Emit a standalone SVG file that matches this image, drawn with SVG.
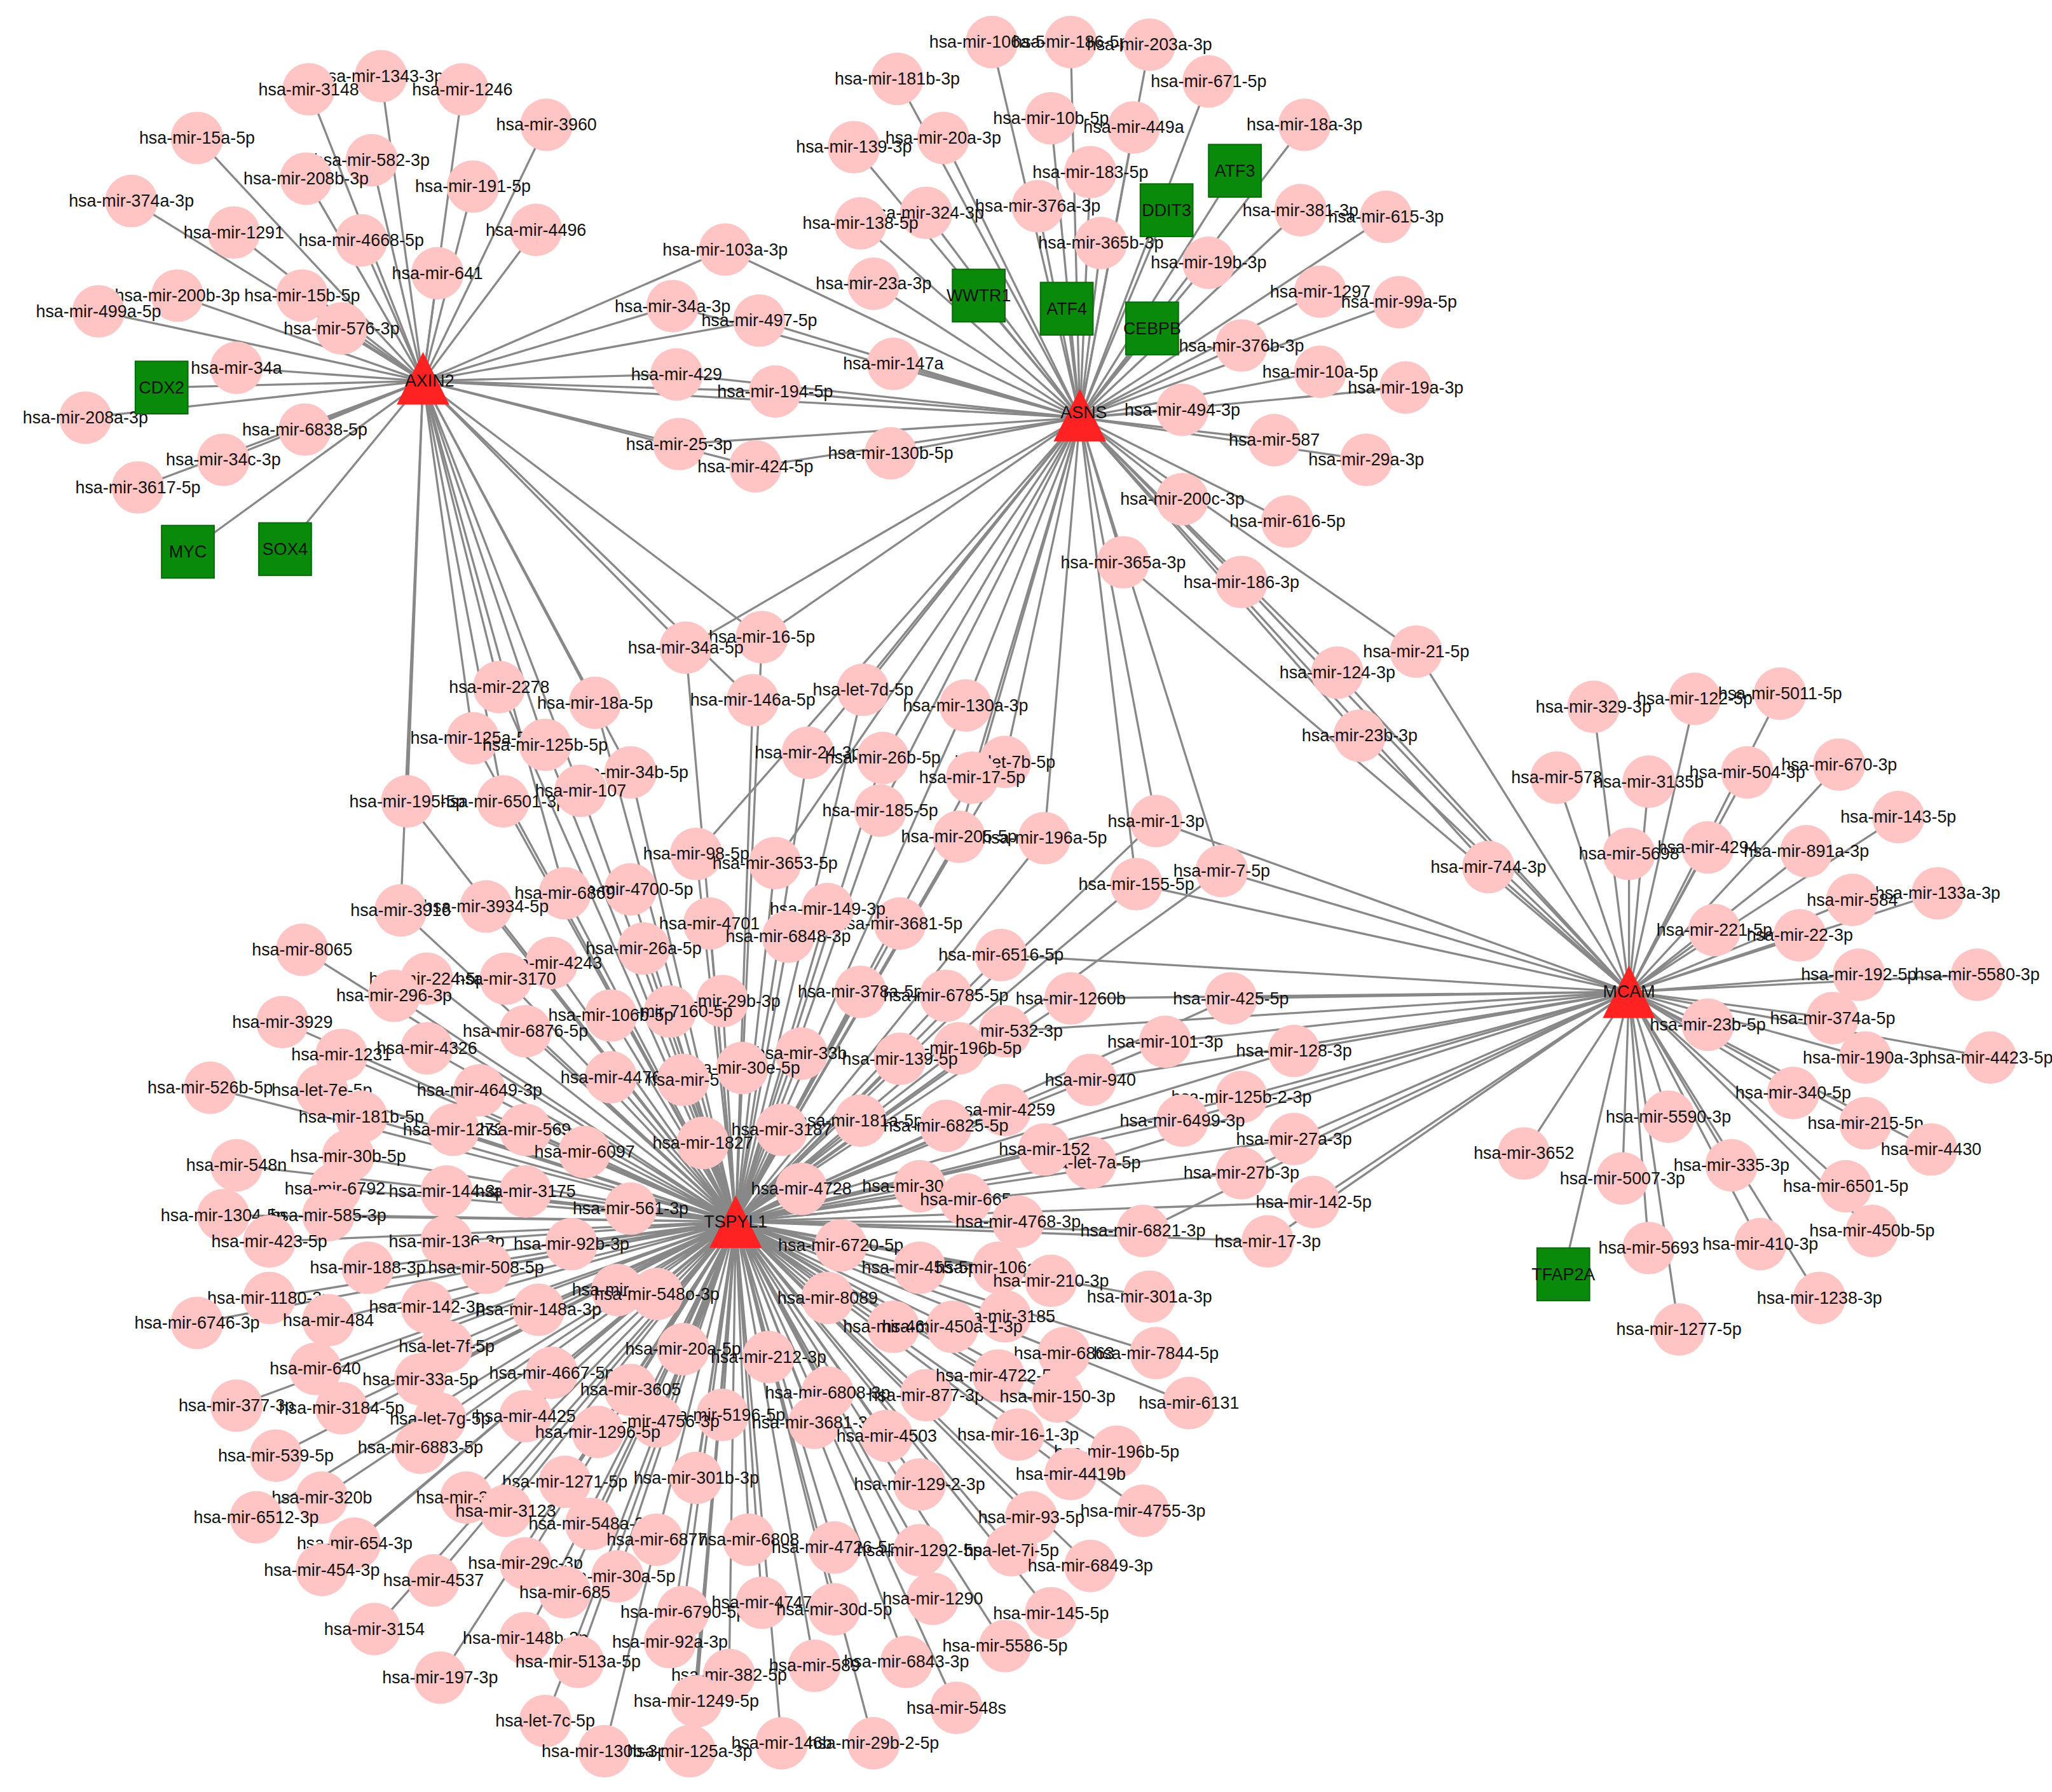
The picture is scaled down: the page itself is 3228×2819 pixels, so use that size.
<svg xmlns="http://www.w3.org/2000/svg" width="3228" height="2819" viewBox="0 0 3228 2819">
<style>
.e{stroke:#888;stroke-width:1.6;fill:none}
.n circle{fill:#ffc4c4}
.n text,.g text,.h text{font-family:"Liberation Sans",Arial,sans-serif;font-size:13px;fill:#111;text-anchor:middle;dominant-baseline:central}
.g rect{fill:#0a8a0a;stroke:#0a6a0a}
.h polygon{fill:#f22}
</style>
<rect width="3228" height="2819" fill="#fff"/>
<g transform="scale(2.0666)">
<g id="connectors">
<!-- AXIN2 cluster -->
<line class="e" x1="322" y1="290" x2="290" y2="58"/><line class="e" x1="322" y1="290" x2="235" y2="68"/><line class="e" x1="322" y1="290" x2="352" y2="68"/><line class="e" x1="322" y1="290" x2="416" y2="95"/><line class="e" x1="322" y1="290" x2="150" y2="105"/><line class="e" x1="322" y1="290" x2="283" y2="122"/><line class="e" x1="322" y1="290" x2="233" y2="136"/><line class="e" x1="322" y1="290" x2="360" y2="142"/><line class="e" x1="322" y1="290" x2="100" y2="153"/><line class="e" x1="322" y1="290" x2="178" y2="177"/><line class="e" x1="322" y1="290" x2="275" y2="183"/><line class="e" x1="322" y1="290" x2="408" y2="175"/><line class="e" x1="322" y1="290" x2="333" y2="208"/><line class="e" x1="322" y1="290" x2="135" y2="225"/><line class="e" x1="322" y1="290" x2="230" y2="225"/><line class="e" x1="322" y1="290" x2="75" y2="237"/><line class="e" x1="322" y1="290" x2="260" y2="250"/><line class="e" x1="322" y1="290" x2="180" y2="280"/><line class="e" x1="322" y1="290" x2="65" y2="318"/><line class="e" x1="322" y1="290" x2="232" y2="327"/><line class="e" x1="322" y1="290" x2="170" y2="350"/><line class="e" x1="322" y1="290" x2="105" y2="371"/><line class="e" x1="322" y1="290" x2="123" y2="295"/><line class="e" x1="322" y1="290" x2="143" y2="420"/><line class="e" x1="322" y1="290" x2="217" y2="418"/>
<!-- A-S shared -->
<line class="e" x1="322" y1="290" x2="822" y2="318"/>
<line class="e" x1="322" y1="290" x2="552" y2="190"/><line class="e" x1="822" y1="318" x2="552" y2="190"/><line class="e" x1="322" y1="290" x2="512" y2="233"/><line class="e" x1="822" y1="318" x2="512" y2="233"/><line class="e" x1="322" y1="290" x2="578" y2="244"/><line class="e" x1="822" y1="318" x2="578" y2="244"/><line class="e" x1="322" y1="290" x2="515" y2="285"/><line class="e" x1="822" y1="318" x2="515" y2="285"/><line class="e" x1="322" y1="290" x2="590" y2="298"/><line class="e" x1="822" y1="318" x2="590" y2="298"/><line class="e" x1="322" y1="290" x2="517" y2="338"/><line class="e" x1="822" y1="318" x2="517" y2="338"/><line class="e" x1="322" y1="290" x2="575" y2="355"/><line class="e" x1="822" y1="318" x2="575" y2="355"/>
<!-- ASNS cluster -->
<line class="e" x1="822" y1="318" x2="755" y2="32"/><line class="e" x1="822" y1="318" x2="815" y2="32"/><line class="e" x1="822" y1="318" x2="875" y2="34"/><line class="e" x1="822" y1="318" x2="683" y2="60"/><line class="e" x1="822" y1="318" x2="920" y2="62"/><line class="e" x1="822" y1="318" x2="800" y2="90"/><line class="e" x1="822" y1="318" x2="863" y2="97"/><line class="e" x1="822" y1="318" x2="993" y2="95"/><line class="e" x1="822" y1="318" x2="650" y2="112"/><line class="e" x1="822" y1="318" x2="718" y2="105"/><line class="e" x1="822" y1="318" x2="830" y2="131"/><line class="e" x1="822" y1="318" x2="940" y2="130"/><line class="e" x1="822" y1="318" x2="790" y2="157"/><line class="e" x1="822" y1="318" x2="705" y2="162"/><line class="e" x1="822" y1="318" x2="655" y2="170"/><line class="e" x1="822" y1="318" x2="888" y2="160"/><line class="e" x1="822" y1="318" x2="990" y2="160"/><line class="e" x1="822" y1="318" x2="1055" y2="165"/><line class="e" x1="822" y1="318" x2="838" y2="185"/><line class="e" x1="822" y1="318" x2="920" y2="200"/><line class="e" x1="822" y1="318" x2="665" y2="216"/><line class="e" x1="822" y1="318" x2="745" y2="225"/><line class="e" x1="822" y1="318" x2="812" y2="235"/><line class="e" x1="822" y1="318" x2="877" y2="250"/><line class="e" x1="822" y1="318" x2="1005" y2="222"/><line class="e" x1="822" y1="318" x2="1065" y2="230"/><line class="e" x1="822" y1="318" x2="945" y2="263"/><line class="e" x1="822" y1="318" x2="680" y2="277"/><line class="e" x1="822" y1="318" x2="1005" y2="283"/><line class="e" x1="822" y1="318" x2="1070" y2="295"/><line class="e" x1="822" y1="318" x2="900" y2="312"/><line class="e" x1="822" y1="318" x2="970" y2="335"/><line class="e" x1="822" y1="318" x2="1040" y2="350"/><line class="e" x1="822" y1="318" x2="678" y2="345"/><line class="e" x1="822" y1="318" x2="900" y2="380"/><line class="e" x1="822" y1="318" x2="980" y2="397"/><line class="e" x1="822" y1="318" x2="855" y2="428"/><line class="e" x1="822" y1="318" x2="945" y2="443"/>
<!-- S-M -->
<line class="e" x1="822" y1="318" x2="1078" y2="496"/><line class="e" x1="1240" y1="755" x2="1078" y2="496"/><line class="e" x1="822" y1="318" x2="1018" y2="512"/><line class="e" x1="1240" y1="755" x2="1018" y2="512"/><line class="e" x1="822" y1="318" x2="1035" y2="560"/><line class="e" x1="1240" y1="755" x2="1035" y2="560"/><line class="e" x1="822" y1="318" x2="1133" y2="660"/><line class="e" x1="1240" y1="755" x2="1133" y2="660"/><line class="e" x1="1240" y1="755" x2="855" y2="428"/><line class="e" x1="1240" y1="755" x2="945" y2="443"/>
<!-- middle A/S/T -->
<line class="e" x1="322" y1="290" x2="580" y2="485"/><line class="e" x1="822" y1="318" x2="580" y2="485"/><line class="e" x1="560" y1="930" x2="580" y2="485"/><line class="e" x1="322" y1="290" x2="522" y2="493"/><line class="e" x1="822" y1="318" x2="522" y2="493"/><line class="e" x1="560" y1="930" x2="522" y2="493"/><line class="e" x1="322" y1="290" x2="573" y2="533"/><line class="e" x1="560" y1="930" x2="573" y2="533"/><line class="e" x1="322" y1="290" x2="380" y2="523"/><line class="e" x1="560" y1="930" x2="380" y2="523"/><line class="e" x1="322" y1="290" x2="453" y2="535"/><line class="e" x1="560" y1="930" x2="453" y2="535"/><line class="e" x1="322" y1="290" x2="360" y2="562"/><line class="e" x1="560" y1="930" x2="360" y2="562"/><line class="e" x1="322" y1="290" x2="415" y2="567"/><line class="e" x1="560" y1="930" x2="415" y2="567"/><line class="e" x1="322" y1="290" x2="480" y2="588"/><line class="e" x1="560" y1="930" x2="480" y2="588"/><line class="e" x1="322" y1="290" x2="310" y2="610"/><line class="e" x1="560" y1="930" x2="310" y2="610"/><line class="e" x1="322" y1="290" x2="383" y2="610"/><line class="e" x1="560" y1="930" x2="383" y2="610"/><line class="e" x1="322" y1="290" x2="442" y2="602"/><line class="e" x1="560" y1="930" x2="442" y2="602"/><line class="e" x1="322" y1="290" x2="305" y2="693"/><line class="e" x1="322" y1="290" x2="430" y2="680"/>
<line class="e" x1="822" y1="318" x2="657" y2="525"/><line class="e" x1="560" y1="930" x2="657" y2="525"/><line class="e" x1="822" y1="318" x2="735" y2="537"/><line class="e" x1="560" y1="930" x2="735" y2="537"/><line class="e" x1="822" y1="318" x2="615" y2="573"/><line class="e" x1="560" y1="930" x2="615" y2="573"/><line class="e" x1="822" y1="318" x2="672" y2="577"/><line class="e" x1="560" y1="930" x2="672" y2="577"/><line class="e" x1="822" y1="318" x2="765" y2="580"/><line class="e" x1="560" y1="930" x2="765" y2="580"/><line class="e" x1="822" y1="318" x2="740" y2="592"/><line class="e" x1="560" y1="930" x2="740" y2="592"/><line class="e" x1="822" y1="318" x2="670" y2="617"/><line class="e" x1="560" y1="930" x2="670" y2="617"/><line class="e" x1="822" y1="318" x2="730" y2="637"/><line class="e" x1="560" y1="930" x2="730" y2="637"/><line class="e" x1="822" y1="318" x2="795" y2="638"/><line class="e" x1="560" y1="930" x2="795" y2="638"/><line class="e" x1="822" y1="318" x2="530" y2="650"/><line class="e" x1="560" y1="930" x2="530" y2="650"/><line class="e" x1="822" y1="318" x2="590" y2="657"/><line class="e" x1="560" y1="930" x2="590" y2="657"/>
<line class="e" x1="822" y1="318" x2="880" y2="625"/><line class="e" x1="560" y1="930" x2="880" y2="625"/><line class="e" x1="1240" y1="755" x2="880" y2="625"/><line class="e" x1="822" y1="318" x2="930" y2="663"/><line class="e" x1="560" y1="930" x2="930" y2="663"/><line class="e" x1="1240" y1="755" x2="930" y2="663"/><line class="e" x1="822" y1="318" x2="865" y2="673"/><line class="e" x1="560" y1="930" x2="865" y2="673"/><line class="e" x1="1240" y1="755" x2="865" y2="673"/>
<!-- MCAM cluster -->
<line class="e" x1="1240" y1="755" x2="1213" y2="538"/><line class="e" x1="1240" y1="755" x2="1290" y2="532"/><line class="e" x1="1240" y1="755" x2="1355" y2="528"/><line class="e" x1="1240" y1="755" x2="1185" y2="592"/><line class="e" x1="1240" y1="755" x2="1255" y2="595"/><line class="e" x1="1240" y1="755" x2="1330" y2="588"/><line class="e" x1="1240" y1="755" x2="1400" y2="582"/><line class="e" x1="1240" y1="755" x2="1445" y2="622"/><line class="e" x1="1240" y1="755" x2="1240" y2="650"/><line class="e" x1="1240" y1="755" x2="1300" y2="645"/><line class="e" x1="1240" y1="755" x2="1375" y2="648"/><line class="e" x1="1240" y1="755" x2="1475" y2="680"/><line class="e" x1="1240" y1="755" x2="1410" y2="685"/><line class="e" x1="1240" y1="755" x2="1305" y2="708"/><line class="e" x1="1240" y1="755" x2="1370" y2="712"/><line class="e" x1="1240" y1="755" x2="1415" y2="742"/><line class="e" x1="1240" y1="755" x2="1505" y2="742"/><line class="e" x1="1240" y1="755" x2="1395" y2="775"/><line class="e" x1="1240" y1="755" x2="1300" y2="780"/><line class="e" x1="1240" y1="755" x2="1420" y2="805"/><line class="e" x1="1240" y1="755" x2="1515" y2="805"/><line class="e" x1="1240" y1="755" x2="1365" y2="832"/><line class="e" x1="1240" y1="755" x2="1420" y2="855"/><line class="e" x1="1240" y1="755" x2="1270" y2="850"/><line class="e" x1="1240" y1="755" x2="1470" y2="875"/><line class="e" x1="1240" y1="755" x2="1160" y2="878"/><line class="e" x1="1240" y1="755" x2="1318" y2="887"/><line class="e" x1="1240" y1="755" x2="1235" y2="897"/><line class="e" x1="1240" y1="755" x2="1405" y2="903"/><line class="e" x1="1240" y1="755" x2="1425" y2="937"/><line class="e" x1="1240" y1="755" x2="1340" y2="947"/><line class="e" x1="1240" y1="755" x2="1255" y2="950"/><line class="e" x1="1240" y1="755" x2="1385" y2="988"/><line class="e" x1="1240" y1="755" x2="1278" y2="1012"/><line class="e" x1="1240" y1="755" x2="1190" y2="970"/>
<!-- T-M shared -->
<line class="e" x1="560" y1="930" x2="937" y2="760"/><line class="e" x1="1240" y1="755" x2="937" y2="760"/><line class="e" x1="560" y1="930" x2="887" y2="793"/><line class="e" x1="1240" y1="755" x2="887" y2="793"/><line class="e" x1="560" y1="930" x2="985" y2="800"/><line class="e" x1="1240" y1="755" x2="985" y2="800"/><line class="e" x1="560" y1="930" x2="830" y2="822"/><line class="e" x1="1240" y1="755" x2="830" y2="822"/><line class="e" x1="560" y1="930" x2="945" y2="835"/><line class="e" x1="1240" y1="755" x2="945" y2="835"/><line class="e" x1="560" y1="930" x2="900" y2="853"/><line class="e" x1="1240" y1="755" x2="900" y2="853"/><line class="e" x1="560" y1="930" x2="985" y2="867"/><line class="e" x1="1240" y1="755" x2="985" y2="867"/><line class="e" x1="560" y1="930" x2="830" y2="885"/><line class="e" x1="1240" y1="755" x2="830" y2="885"/><line class="e" x1="560" y1="930" x2="945" y2="893"/><line class="e" x1="1240" y1="755" x2="945" y2="893"/><line class="e" x1="560" y1="930" x2="1000" y2="915"/><line class="e" x1="1240" y1="755" x2="1000" y2="915"/><line class="e" x1="560" y1="930" x2="870" y2="937"/><line class="e" x1="1240" y1="755" x2="870" y2="937"/><line class="e" x1="560" y1="930" x2="965" y2="945"/><line class="e" x1="1240" y1="755" x2="965" y2="945"/><line class="e" x1="560" y1="930" x2="815" y2="760"/><line class="e" x1="1240" y1="755" x2="815" y2="760"/><line class="e" x1="560" y1="930" x2="765" y2="785"/><line class="e" x1="1240" y1="755" x2="765" y2="785"/><line class="e" x1="560" y1="930" x2="762" y2="727"/><line class="e" x1="1240" y1="755" x2="762" y2="727"/><line class="e" x1="560" y1="930" x2="685" y2="703"/>
<!-- TSPYL1 cluster -->
<g id="tspyl1-edges">
<path class="e" d="M560 930L630 692M560 930L540 703M560 930L600 713M560 930L480 677M560 930L430 680M560 930L370 690M560 930L305 693M560 930L230 723M560 930L490 722M560 930L420 733M560 930L325 745M560 930L385 745M560 930L300 758M560 930L655 755M560 930L720 758M560 930L550 762M560 930L510 770M560 930L465 773M560 930L400 785M560 930L215 778M560 930L260 803M560 930L325 798M560 930L730 798M560 930L685 806M560 930L610 802M560 930L565 813M560 930L465 820M560 930L520 822M560 930L365 830M560 930L160 828M560 930L245 830M560 930L765 845M560 930L275 850M560 930L345 860M560 930L400 860M560 930L655 853M560 930L720 857M560 930L595 860M560 930L535 870M560 930L445 877M560 930L265 880M560 930L180 887M560 930L795 875M560 930L610 905M560 930L700 903M560 930L255 905M560 930L340 907M560 930L400 907M560 930L735 913M560 930L480 920M560 930L170 925M560 930L250 925M560 930L775 930M560 930L340 945M560 930L435 947M560 930L205 945M560 930L640 948M560 930L280 965M560 930L370 965M560 930L700 965M560 930L760 965M560 930L800 975M560 930L205 988M560 930L325 995M560 930L470 982M560 930L500 985M560 930L630 988M560 930L875 987M560 930L150 1007M560 930L250 1005M560 930L410 997M560 930L765 1002M560 930L680 1010M560 930L725 1010M560 930L340 1025M560 930L520 1027M560 930L585 1033M560 930L810 1030M560 930L880 1030M560 930L240 1042M560 930L320 1050M560 930L420 1045M560 930L480 1058M560 930L630 1060M560 930L705 1062M560 930L760 1047M560 930L180 1070M560 930L260 1072M560 930L335 1080M560 930L400 1078M560 930L805 1063M560 930L905 1068M560 930L550 1077M560 930L620 1083M560 930L500 1082M560 930L210 1108M560 930L320 1102M560 930L455 1090M560 930L675 1093M560 930L775 1092M560 930L850 1105M560 930L245 1140M560 930L355 1140M560 930L430 1128M560 930L530 1125M560 930L815 1122M560 930L700 1130M560 930L195 1155M560 930L385 1150M560 930L450 1160M560 930L785 1155M560 930L870 1150M560 930L270 1175M560 930L330 1203M560 930L400 1190M560 930L570 1172M560 930L500 1172M560 930L635 1178M560 930L700 1180M560 930L770 1180M560 930L830 1192M560 930L245 1195M560 930L470 1200M560 930L430 1212M560 930L710 1217M560 930L800 1228M560 930L520 1227M560 930L580 1220M560 930L635 1225M560 930L285 1240M560 930L400 1247M560 930L510 1250M560 930L765 1253M560 930L440 1265M560 930L690 1265M560 930L620 1268M560 930L555 1275M560 930L335 1277M560 930L530 1295M560 930L728 1300M560 930L415 1310M560 930L460 1333M560 930L525 1333M560 930L595 1327M560 930L665 1327"/>
</g>
</g>
<g id="nodes">
<g id="n001" class="n"><circle cx="290" cy="58" r="20"/><text x="290" y="58">hsa-mir-1343-3p</text></g>
<g id="n002" class="n"><circle cx="235" cy="68" r="20"/><text x="235" y="68">hsa-mir-3148</text></g>
<g id="n003" class="n"><circle cx="352" cy="68" r="20"/><text x="352" y="68">hsa-mir-1246</text></g>
<g id="n004" class="n"><circle cx="416" cy="95" r="20"/><text x="416" y="95">hsa-mir-3960</text></g>
<g id="n005" class="n"><circle cx="150" cy="105" r="20"/><text x="150" y="105">hsa-mir-15a-5p</text></g>
<g id="n006" class="n"><circle cx="283" cy="122" r="20"/><text x="283" y="122">hsa-mir-582-3p</text></g>
<g id="n007" class="n"><circle cx="233" cy="136" r="20"/><text x="233" y="136">hsa-mir-208b-3p</text></g>
<g id="n008" class="n"><circle cx="360" cy="142" r="20"/><text x="360" y="142">hsa-mir-191-5p</text></g>
<g id="n009" class="n"><circle cx="100" cy="153" r="20"/><text x="100" y="153">hsa-mir-374a-3p</text></g>
<g id="n010" class="n"><circle cx="178" cy="177" r="20"/><text x="178" y="177">hsa-mir-1291</text></g>
<g id="n011" class="n"><circle cx="275" cy="183" r="20"/><text x="275" y="183">hsa-mir-4668-5p</text></g>
<g id="n012" class="n"><circle cx="408" cy="175" r="20"/><text x="408" y="175">hsa-mir-4496</text></g>
<g id="n013" class="n"><circle cx="333" cy="208" r="20"/><text x="333" y="208">hsa-mir-641</text></g>
<g id="n014" class="n"><circle cx="135" cy="225" r="20"/><text x="135" y="225">hsa-mir-200b-3p</text></g>
<g id="n015" class="n"><circle cx="230" cy="225" r="20"/><text x="230" y="225">hsa-mir-15b-5p</text></g>
<g id="n016" class="n"><circle cx="75" cy="237" r="20"/><text x="75" y="237">hsa-mir-499a-5p</text></g>
<g id="n017" class="n"><circle cx="260" cy="250" r="20"/><text x="260" y="250">hsa-mir-576-3p</text></g>
<g id="n018" class="n"><circle cx="180" cy="280" r="20"/><text x="180" y="280">hsa-mir-34a</text></g>
<g id="n019" class="n"><circle cx="65" cy="318" r="20"/><text x="65" y="318">hsa-mir-208a-3p</text></g>
<g id="n020" class="n"><circle cx="232" cy="327" r="20"/><text x="232" y="327">hsa-mir-6838-5p</text></g>
<g id="n021" class="n"><circle cx="170" cy="350" r="20"/><text x="170" y="350">hsa-mir-34c-3p</text></g>
<g id="n022" class="n"><circle cx="105" cy="371" r="20"/><text x="105" y="371">hsa-mir-3617-5p</text></g>
<g id="n023" class="n"><circle cx="552" cy="190" r="20"/><text x="552" y="190">hsa-mir-103a-3p</text></g>
<g id="n024" class="n"><circle cx="512" cy="233" r="20"/><text x="512" y="233">hsa-mir-34a-3p</text></g>
<g id="n025" class="n"><circle cx="578" cy="244" r="20"/><text x="578" y="244">hsa-mir-497-5p</text></g>
<g id="n026" class="n"><circle cx="515" cy="285" r="20"/><text x="515" y="285">hsa-mir-429</text></g>
<g id="n027" class="n"><circle cx="590" cy="298" r="20"/><text x="590" y="298">hsa-mir-194-5p</text></g>
<g id="n028" class="n"><circle cx="517" cy="338" r="20"/><text x="517" y="338">hsa-mir-25-3p</text></g>
<g id="n029" class="n"><circle cx="575" cy="355" r="20"/><text x="575" y="355">hsa-mir-424-5p</text></g>
<g id="n030" class="n"><circle cx="755" cy="32" r="20"/><text x="755" y="32">hsa-mir-106a-5p</text></g>
<g id="n031" class="n"><circle cx="815" cy="32" r="20"/><text x="815" y="32">hsa-mir-186-5p</text></g>
<g id="n032" class="n"><circle cx="875" cy="34" r="20"/><text x="875" y="34">hsa-mir-203a-3p</text></g>
<g id="n033" class="n"><circle cx="683" cy="60" r="20"/><text x="683" y="60">hsa-mir-181b-3p</text></g>
<g id="n034" class="n"><circle cx="920" cy="62" r="20"/><text x="920" y="62">hsa-mir-671-5p</text></g>
<g id="n035" class="n"><circle cx="800" cy="90" r="20"/><text x="800" y="90">hsa-mir-10b-5p</text></g>
<g id="n036" class="n"><circle cx="863" cy="97" r="20"/><text x="863" y="97">hsa-mir-449a</text></g>
<g id="n037" class="n"><circle cx="993" cy="95" r="20"/><text x="993" y="95">hsa-mir-18a-3p</text></g>
<g id="n038" class="n"><circle cx="650" cy="112" r="20"/><text x="650" y="112">hsa-mir-139-3p</text></g>
<g id="n039" class="n"><circle cx="718" cy="105" r="20"/><text x="718" y="105">hsa-mir-20a-3p</text></g>
<g id="n040" class="n"><circle cx="830" cy="131" r="20"/><text x="830" y="131">hsa-mir-183-5p</text></g>
<g id="n041" class="n"><circle cx="790" cy="157" r="20"/><text x="790" y="157">hsa-mir-376a-3p</text></g>
<g id="n042" class="n"><circle cx="705" cy="162" r="20"/><text x="705" y="162">hsa-mir-324-3p</text></g>
<g id="n043" class="n"><circle cx="655" cy="170" r="20"/><text x="655" y="170">hsa-mir-138-5p</text></g>
<g id="n044" class="n"><circle cx="990" cy="160" r="20"/><text x="990" y="160">hsa-mir-381-3p</text></g>
<g id="n045" class="n"><circle cx="1055" cy="165" r="20"/><text x="1055" y="165">hsa-mir-615-3p</text></g>
<g id="n046" class="n"><circle cx="838" cy="185" r="20"/><text x="838" y="185">hsa-mir-365b-3p</text></g>
<g id="n047" class="n"><circle cx="920" cy="200" r="20"/><text x="920" y="200">hsa-mir-19b-3p</text></g>
<g id="n048" class="n"><circle cx="665" cy="216" r="20"/><text x="665" y="216">hsa-mir-23a-3p</text></g>
<g id="n049" class="n"><circle cx="1005" cy="222" r="20"/><text x="1005" y="222">hsa-mir-1297</text></g>
<g id="n050" class="n"><circle cx="1065" cy="230" r="20"/><text x="1065" y="230">hsa-mir-99a-5p</text></g>
<g id="n051" class="n"><circle cx="945" cy="263" r="20"/><text x="945" y="263">hsa-mir-376b-3p</text></g>
<g id="n052" class="n"><circle cx="680" cy="277" r="20"/><text x="680" y="277">hsa-mir-147a</text></g>
<g id="n053" class="n"><circle cx="1005" cy="283" r="20"/><text x="1005" y="283">hsa-mir-10a-5p</text></g>
<g id="n054" class="n"><circle cx="1070" cy="295" r="20"/><text x="1070" y="295">hsa-mir-19a-3p</text></g>
<g id="n055" class="n"><circle cx="900" cy="312" r="20"/><text x="900" y="312">hsa-mir-494-3p</text></g>
<g id="n056" class="n"><circle cx="970" cy="335" r="20"/><text x="970" y="335">hsa-mir-587</text></g>
<g id="n057" class="n"><circle cx="1040" cy="350" r="20"/><text x="1040" y="350">hsa-mir-29a-3p</text></g>
<g id="n058" class="n"><circle cx="678" cy="345" r="20"/><text x="678" y="345">hsa-mir-130b-5p</text></g>
<g id="n059" class="n"><circle cx="900" cy="380" r="20"/><text x="900" y="380">hsa-mir-200c-3p</text></g>
<g id="n060" class="n"><circle cx="980" cy="397" r="20"/><text x="980" y="397">hsa-mir-616-5p</text></g>
<g id="n061" class="n"><circle cx="855" cy="428" r="20"/><text x="855" y="428">hsa-mir-365a-3p</text></g>
<g id="n062" class="n"><circle cx="945" cy="443" r="20"/><text x="945" y="443">hsa-mir-186-3p</text></g>
<g id="n063" class="n"><circle cx="1078" cy="496" r="20"/><text x="1078" y="496">hsa-mir-21-5p</text></g>
<g id="n064" class="n"><circle cx="1018" cy="512" r="20"/><text x="1018" y="512">hsa-mir-124-3p</text></g>
<g id="n065" class="n"><circle cx="1035" cy="560" r="20"/><text x="1035" y="560">hsa-mir-23b-3p</text></g>
<g id="n066" class="n"><circle cx="1133" cy="660" r="20"/><text x="1133" y="660">hsa-mir-744-3p</text></g>
<g id="n067" class="n"><circle cx="580" cy="485" r="20"/><text x="580" y="485">hsa-mir-16-5p</text></g>
<g id="n068" class="n"><circle cx="522" cy="493" r="20"/><text x="522" y="493">hsa-mir-34a-5p</text></g>
<g id="n069" class="n"><circle cx="573" cy="533" r="20"/><text x="573" y="533">hsa-mir-146a-5p</text></g>
<g id="n070" class="n"><circle cx="380" cy="523" r="20"/><text x="380" y="523">hsa-mir-2278</text></g>
<g id="n071" class="n"><circle cx="453" cy="535" r="20"/><text x="453" y="535">hsa-mir-18a-5p</text></g>
<g id="n072" class="n"><circle cx="657" cy="525" r="20"/><text x="657" y="525">hsa-let-7d-5p</text></g>
<g id="n073" class="n"><circle cx="735" cy="537" r="20"/><text x="735" y="537">hsa-mir-130a-3p</text></g>
<g id="n074" class="n"><circle cx="360" cy="562" r="20"/><text x="360" y="562">hsa-mir-125a-5p</text></g>
<g id="n075" class="n"><circle cx="415" cy="567" r="20"/><text x="415" y="567">hsa-mir-125b-5p</text></g>
<g id="n076" class="n"><circle cx="615" cy="573" r="20"/><text x="615" y="573">hsa-mir-24-3p</text></g>
<g id="n077" class="n"><circle cx="672" cy="577" r="20"/><text x="672" y="577">hsa-mir-26b-5p</text></g>
<g id="n078" class="n"><circle cx="765" cy="580" r="20"/><text x="765" y="580">hsa-let-7b-5p</text></g>
<g id="n079" class="n"><circle cx="480" cy="588" r="20"/><text x="480" y="588">hsa-mir-34b-5p</text></g>
<g id="n080" class="n"><circle cx="740" cy="592" r="20"/><text x="740" y="592">hsa-mir-17-5p</text></g>
<g id="n081" class="n"><circle cx="310" cy="610" r="20"/><text x="310" y="610">hsa-mir-195-5p</text></g>
<g id="n082" class="n"><circle cx="383" cy="610" r="20"/><text x="383" y="610">hsa-mir-6501-3p</text></g>
<g id="n083" class="n"><circle cx="442" cy="602" r="20"/><text x="442" y="602">hsa-mir-107</text></g>
<g id="n084" class="n"><circle cx="670" cy="617" r="20"/><text x="670" y="617">hsa-mir-185-5p</text></g>
<g id="n085" class="n"><circle cx="880" cy="625" r="20"/><text x="880" y="625">hsa-mir-1-3p</text></g>
<g id="n086" class="n"><circle cx="730" cy="637" r="20"/><text x="730" y="637">hsa-mir-205-5p</text></g>
<g id="n087" class="n"><circle cx="795" cy="638" r="20"/><text x="795" y="638">hsa-mir-196a-5p</text></g>
<g id="n088" class="n"><circle cx="530" cy="650" r="20"/><text x="530" y="650">hsa-mir-98-5p</text></g>
<g id="n089" class="n"><circle cx="590" cy="657" r="20"/><text x="590" y="657">hsa-mir-3653-5p</text></g>
<g id="n090" class="n"><circle cx="930" cy="663" r="20"/><text x="930" y="663">hsa-mir-7-5p</text></g>
<g id="n091" class="n"><circle cx="865" cy="673" r="20"/><text x="865" y="673">hsa-mir-155-5p</text></g>
<g id="n092" class="n"><circle cx="1213" cy="538" r="20"/><text x="1213" y="538">hsa-mir-329-3p</text></g>
<g id="n093" class="n"><circle cx="1290" cy="532" r="20"/><text x="1290" y="532">hsa-mir-122-5p</text></g>
<g id="n094" class="n"><circle cx="1355" cy="528" r="20"/><text x="1355" y="528">hsa-mir-5011-5p</text></g>
<g id="n095" class="n"><circle cx="1185" cy="592" r="20"/><text x="1185" y="592">hsa-mir-573</text></g>
<g id="n096" class="n"><circle cx="1255" cy="595" r="20"/><text x="1255" y="595">hsa-mir-3135b</text></g>
<g id="n097" class="n"><circle cx="1330" cy="588" r="20"/><text x="1330" y="588">hsa-mir-504-3p</text></g>
<g id="n098" class="n"><circle cx="1400" cy="582" r="20"/><text x="1400" y="582">hsa-mir-670-3p</text></g>
<g id="n099" class="n"><circle cx="1445" cy="622" r="20"/><text x="1445" y="622">hsa-mir-143-5p</text></g>
<g id="n100" class="n"><circle cx="1240" cy="650" r="20"/><text x="1240" y="650">hsa-mir-5698</text></g>
<g id="n101" class="n"><circle cx="1300" cy="645" r="20"/><text x="1300" y="645">hsa-mir-4294</text></g>
<g id="n102" class="n"><circle cx="1375" cy="648" r="20"/><text x="1375" y="648">hsa-mir-891a-3p</text></g>
<g id="n103" class="n"><circle cx="1475" cy="680" r="20"/><text x="1475" y="680">hsa-mir-133a-3p</text></g>
<g id="n104" class="n"><circle cx="1410" cy="685" r="20"/><text x="1410" y="685">hsa-mir-584</text></g>
<g id="n105" class="n"><circle cx="1305" cy="708" r="20"/><text x="1305" y="708">hsa-mir-221-5p</text></g>
<g id="n106" class="n"><circle cx="1370" cy="712" r="20"/><text x="1370" y="712">hsa-mir-22-3p</text></g>
<g id="n107" class="n"><circle cx="1415" cy="742" r="20"/><text x="1415" y="742">hsa-mir-192-5p</text></g>
<g id="n108" class="n"><circle cx="1505" cy="742" r="20"/><text x="1505" y="742">hsa-mir-5580-3p</text></g>
<g id="n109" class="n"><circle cx="1395" cy="775" r="20"/><text x="1395" y="775">hsa-mir-374a-5p</text></g>
<g id="n110" class="n"><circle cx="1300" cy="780" r="20"/><text x="1300" y="780">hsa-mir-23b-5p</text></g>
<g id="n111" class="n"><circle cx="1420" cy="805" r="20"/><text x="1420" y="805">hsa-mir-190a-3p</text></g>
<g id="n112" class="n"><circle cx="1515" cy="805" r="20"/><text x="1515" y="805">hsa-mir-4423-5p</text></g>
<g id="n113" class="n"><circle cx="1365" cy="832" r="20"/><text x="1365" y="832">hsa-mir-340-5p</text></g>
<g id="n114" class="n"><circle cx="1420" cy="855" r="20"/><text x="1420" y="855">hsa-mir-215-5p</text></g>
<g id="n115" class="n"><circle cx="1270" cy="850" r="20"/><text x="1270" y="850">hsa-mir-5590-3p</text></g>
<g id="n116" class="n"><circle cx="1470" cy="875" r="20"/><text x="1470" y="875">hsa-mir-4430</text></g>
<g id="n117" class="n"><circle cx="1160" cy="878" r="20"/><text x="1160" y="878">hsa-mir-3652</text></g>
<g id="n118" class="n"><circle cx="1318" cy="887" r="20"/><text x="1318" y="887">hsa-mir-335-3p</text></g>
<g id="n119" class="n"><circle cx="1235" cy="897" r="20"/><text x="1235" y="897">hsa-mir-5007-3p</text></g>
<g id="n120" class="n"><circle cx="1405" cy="903" r="20"/><text x="1405" y="903">hsa-mir-6501-5p</text></g>
<g id="n121" class="n"><circle cx="1425" cy="937" r="20"/><text x="1425" y="937">hsa-mir-450b-5p</text></g>
<g id="n122" class="n"><circle cx="1340" cy="947" r="20"/><text x="1340" y="947">hsa-mir-410-3p</text></g>
<g id="n123" class="n"><circle cx="1255" cy="950" r="20"/><text x="1255" y="950">hsa-mir-5693</text></g>
<g id="n124" class="n"><circle cx="1385" cy="988" r="20"/><text x="1385" y="988">hsa-mir-1238-3p</text></g>
<g id="n125" class="n"><circle cx="1278" cy="1012" r="20"/><text x="1278" y="1012">hsa-mir-1277-5p</text></g>
<g id="n126" class="n"><circle cx="937" cy="760" r="20"/><text x="937" y="760">hsa-mir-425-5p</text></g>
<g id="n127" class="n"><circle cx="887" cy="793" r="20"/><text x="887" y="793">hsa-mir-101-3p</text></g>
<g id="n128" class="n"><circle cx="985" cy="800" r="20"/><text x="985" y="800">hsa-mir-128-3p</text></g>
<g id="n129" class="n"><circle cx="830" cy="822" r="20"/><text x="830" y="822">hsa-mir-940</text></g>
<g id="n130" class="n"><circle cx="945" cy="835" r="20"/><text x="945" y="835">hsa-mir-125b-2-3p</text></g>
<g id="n131" class="n"><circle cx="900" cy="853" r="20"/><text x="900" y="853">hsa-mir-6499-3p</text></g>
<g id="n132" class="n"><circle cx="985" cy="867" r="20"/><text x="985" y="867">hsa-mir-27a-3p</text></g>
<g id="n133" class="n"><circle cx="830" cy="885" r="20"/><text x="830" y="885">hsa-let-7a-5p</text></g>
<g id="n134" class="n"><circle cx="945" cy="893" r="20"/><text x="945" y="893">hsa-mir-27b-3p</text></g>
<g id="n135" class="n"><circle cx="1000" cy="915" r="20"/><text x="1000" y="915">hsa-mir-142-5p</text></g>
<g id="n136" class="n"><circle cx="870" cy="937" r="20"/><text x="870" y="937">hsa-mir-6821-3p</text></g>
<g id="n137" class="n"><circle cx="965" cy="945" r="20"/><text x="965" y="945">hsa-mir-17-3p</text></g>
<g id="n138" class="n"><circle cx="815" cy="760" r="20"/><text x="815" y="760">hsa-mir-1260b</text></g>
<g id="n139" class="n"><circle cx="765" cy="785" r="20"/><text x="765" y="785">hsa-mir-532-3p</text></g>
<g id="n140" class="n"><circle cx="762" cy="727" r="20"/><text x="762" y="727">hsa-mir-6516-5p</text></g>
<g id="n141" class="n"><circle cx="685" cy="703" r="20"/><text x="685" y="703">hsa-mir-3681-5p</text></g>
<g id="n142" class="n"><circle cx="630" cy="692" r="20"/><text x="630" y="692">hsa-mir-149-3p</text></g>
<g id="n143" class="n"><circle cx="540" cy="703" r="20"/><text x="540" y="703">hsa-mir-4701</text></g>
<g id="n144" class="n"><circle cx="600" cy="713" r="20"/><text x="600" y="713">hsa-mir-6848-3p</text></g>
<g id="n145" class="n"><circle cx="480" cy="677" r="20"/><text x="480" y="677">hsa-mir-4700-5p</text></g>
<g id="n146" class="n"><circle cx="430" cy="680" r="20"/><text x="430" y="680">hsa-mir-6869</text></g>
<g id="n147" class="n"><circle cx="370" cy="690" r="20"/><text x="370" y="690">hsa-mir-3934-5p</text></g>
<g id="n148" class="n"><circle cx="305" cy="693" r="20"/><text x="305" y="693">hsa-mir-3916</text></g>
<g id="n149" class="n"><circle cx="230" cy="723" r="20"/><text x="230" y="723">hsa-mir-8065</text></g>
<g id="n150" class="n"><circle cx="490" cy="722" r="20"/><text x="490" y="722">hsa-mir-26a-5p</text></g>
<g id="n151" class="n"><circle cx="420" cy="733" r="20"/><text x="420" y="733">hsa-mir-4243</text></g>
<g id="n152" class="n"><circle cx="325" cy="745" r="20"/><text x="325" y="745">hsa-mir-224-5p</text></g>
<g id="n153" class="n"><circle cx="385" cy="745" r="20"/><text x="385" y="745">hsa-mir-3170</text></g>
<g id="n154" class="n"><circle cx="300" cy="758" r="20"/><text x="300" y="758">hsa-mir-296-3p</text></g>
<g id="n155" class="n"><circle cx="655" cy="755" r="20"/><text x="655" y="755">hsa-mir-378a-5p</text></g>
<g id="n156" class="n"><circle cx="720" cy="758" r="20"/><text x="720" y="758">hsa-mir-6785-5p</text></g>
<g id="n157" class="n"><circle cx="550" cy="762" r="20"/><text x="550" y="762">hsa-mir-29b-3p</text></g>
<g id="n158" class="n"><circle cx="510" cy="770" r="20"/><text x="510" y="770">hsa-mir-7160-5p</text></g>
<g id="n159" class="n"><circle cx="465" cy="773" r="20"/><text x="465" y="773">hsa-mir-106b-5p</text></g>
<g id="n160" class="n"><circle cx="400" cy="785" r="20"/><text x="400" y="785">hsa-mir-6876-5p</text></g>
<g id="n161" class="n"><circle cx="215" cy="778" r="20"/><text x="215" y="778">hsa-mir-3929</text></g>
<g id="n162" class="n"><circle cx="260" cy="803" r="20"/><text x="260" y="803">hsa-mir-1231</text></g>
<g id="n163" class="n"><circle cx="325" cy="798" r="20"/><text x="325" y="798">hsa-mir-4326</text></g>
<g id="n164" class="n"><circle cx="730" cy="798" r="20"/><text x="730" y="798">hsa-mir-196b-5p</text></g>
<g id="n165" class="n"><circle cx="685" cy="806" r="20"/><text x="685" y="806">hsa-mir-139-5p</text></g>
<g id="n166" class="n"><circle cx="610" cy="802" r="20"/><text x="610" y="802">hsa-mir-33b</text></g>
<g id="n167" class="n"><circle cx="565" cy="813" r="20"/><text x="565" y="813">hsa-mir-30e-5p</text></g>
<g id="n168" class="n"><circle cx="465" cy="820" r="20"/><text x="465" y="820">hsa-mir-4476</text></g>
<g id="n169" class="n"><circle cx="520" cy="822" r="20"/><text x="520" y="822">hsa-mir-5</text></g>
<g id="n170" class="n"><circle cx="365" cy="830" r="20"/><text x="365" y="830">hsa-mir-4649-3p</text></g>
<g id="n171" class="n"><circle cx="160" cy="828" r="20"/><text x="160" y="828">hsa-mir-526b-5p</text></g>
<g id="n172" class="n"><circle cx="245" cy="830" r="20"/><text x="245" y="830">hsa-let-7e-5p</text></g>
<g id="n173" class="n"><circle cx="765" cy="845" r="20"/><text x="765" y="845">hsa-mir-4259</text></g>
<g id="n174" class="n"><circle cx="275" cy="850" r="20"/><text x="275" y="850">hsa-mir-181b-5p</text></g>
<g id="n175" class="n"><circle cx="345" cy="860" r="20"/><text x="345" y="860">hsa-mir-1273</text></g>
<g id="n176" class="n"><circle cx="400" cy="860" r="20"/><text x="400" y="860">hsa-mir-569</text></g>
<g id="n177" class="n"><circle cx="655" cy="853" r="20"/><text x="655" y="853">hsa-mir-181a-5p</text></g>
<g id="n178" class="n"><circle cx="720" cy="857" r="20"/><text x="720" y="857">hsa-mir-6825-5p</text></g>
<g id="n179" class="n"><circle cx="595" cy="860" r="20"/><text x="595" y="860">hsa-mir-3187</text></g>
<g id="n180" class="n"><circle cx="535" cy="870" r="20"/><text x="535" y="870">hsa-mir-1827</text></g>
<g id="n181" class="n"><circle cx="445" cy="877" r="20"/><text x="445" y="877">hsa-mir-6097</text></g>
<g id="n182" class="n"><circle cx="265" cy="880" r="20"/><text x="265" y="880">hsa-mir-30b-5p</text></g>
<g id="n183" class="n"><circle cx="180" cy="887" r="20"/><text x="180" y="887">hsa-mir-548n</text></g>
<g id="n184" class="n"><circle cx="795" cy="875" r="20"/><text x="795" y="875">hsa-mir-152</text></g>
<g id="n185" class="n"><circle cx="610" cy="905" r="20"/><text x="610" y="905">hsa-mir-4728</text></g>
<g id="n186" class="n"><circle cx="700" cy="903" r="20"/><text x="700" y="903">hsa-mir-30c-5p</text></g>
<g id="n187" class="n"><circle cx="255" cy="905" r="20"/><text x="255" y="905">hsa-mir-6792</text></g>
<g id="n188" class="n"><circle cx="340" cy="907" r="20"/><text x="340" y="907">hsa-mir-144-3p</text></g>
<g id="n189" class="n"><circle cx="400" cy="907" r="20"/><text x="400" y="907">hsa-mir-3175</text></g>
<g id="n190" class="n"><circle cx="735" cy="913" r="20"/><text x="735" y="913">hsa-mir-665</text></g>
<g id="n191" class="n"><circle cx="480" cy="920" r="20"/><text x="480" y="920">hsa-mir-561-3p</text></g>
<g id="n192" class="n"><circle cx="170" cy="925" r="20"/><text x="170" y="925">hsa-mir-1304-5p</text></g>
<g id="n193" class="n"><circle cx="250" cy="925" r="20"/><text x="250" y="925">hsa-mir-585-3p</text></g>
<g id="n194" class="n"><circle cx="775" cy="930" r="20"/><text x="775" y="930">hsa-mir-4768-3p</text></g>
<g id="n195" class="n"><circle cx="340" cy="945" r="20"/><text x="340" y="945">hsa-mir-136-3p</text></g>
<g id="n196" class="n"><circle cx="435" cy="947" r="20"/><text x="435" y="947">hsa-mir-92b-3p</text></g>
<g id="n197" class="n"><circle cx="205" cy="945" r="20"/><text x="205" y="945">hsa-mir-423-5p</text></g>
<g id="n198" class="n"><circle cx="640" cy="948" r="20"/><text x="640" y="948">hsa-mir-6720-5p</text></g>
<g id="n199" class="n"><circle cx="280" cy="965" r="20"/><text x="280" y="965">hsa-mir-188-3p</text></g>
<g id="n200" class="n"><circle cx="370" cy="965" r="20"/><text x="370" y="965">hsa-mir-508-5p</text></g>
<g id="n201" class="n"><circle cx="700" cy="965" r="20"/><text x="700" y="965">hsa-mir-455-5p</text></g>
<g id="n202" class="n"><circle cx="760" cy="965" r="20"/><text x="760" y="965">hsa-mir-106a-5p</text></g>
<g id="n203" class="n"><circle cx="800" cy="975" r="20"/><text x="800" y="975">hsa-mir-210-3p</text></g>
<g id="n204" class="n"><circle cx="205" cy="988" r="20"/><text x="205" y="988">hsa-mir-1180-3p</text></g>
<g id="n205" class="n"><circle cx="325" cy="995" r="20"/><text x="325" y="995">hsa-mir-142-3p</text></g>
<g id="n206" class="n"><circle cx="470" cy="982" r="20"/><text x="470" y="982">hsa-mir-182</text></g>
<g id="n207" class="n"><circle cx="500" cy="985" r="20"/><text x="500" y="985">hsa-mir-548o-3p</text></g>
<g id="n208" class="n"><circle cx="630" cy="988" r="20"/><text x="630" y="988">hsa-mir-8089</text></g>
<g id="n209" class="n"><circle cx="875" cy="987" r="20"/><text x="875" y="987">hsa-mir-301a-3p</text></g>
<g id="n210" class="n"><circle cx="150" cy="1007" r="20"/><text x="150" y="1007">hsa-mir-6746-3p</text></g>
<g id="n211" class="n"><circle cx="250" cy="1005" r="20"/><text x="250" y="1005">hsa-mir-484</text></g>
<g id="n212" class="n"><circle cx="410" cy="997" r="20"/><text x="410" y="997">hsa-mir-148a-3p</text></g>
<g id="n213" class="n"><circle cx="765" cy="1002" r="20"/><text x="765" y="1002">hsa-mir-3185</text></g>
<g id="n214" class="n"><circle cx="680" cy="1010" r="20"/><text x="680" y="1010">hsa-mir-4685</text></g>
<g id="n215" class="n"><circle cx="725" cy="1010" r="20"/><text x="725" y="1010">hsa-mir-450a-1-3p</text></g>
<g id="n216" class="n"><circle cx="340" cy="1025" r="20"/><text x="340" y="1025">hsa-let-7f-5p</text></g>
<g id="n217" class="n"><circle cx="520" cy="1027" r="20"/><text x="520" y="1027">hsa-mir-20a-5p</text></g>
<g id="n218" class="n"><circle cx="585" cy="1033" r="20"/><text x="585" y="1033">hsa-mir-212-3p</text></g>
<g id="n219" class="n"><circle cx="810" cy="1030" r="20"/><text x="810" y="1030">hsa-mir-6863</text></g>
<g id="n220" class="n"><circle cx="880" cy="1030" r="20"/><text x="880" y="1030">hsa-mir-7844-5p</text></g>
<g id="n221" class="n"><circle cx="240" cy="1042" r="20"/><text x="240" y="1042">hsa-mir-640</text></g>
<g id="n222" class="n"><circle cx="320" cy="1050" r="20"/><text x="320" y="1050">hsa-mir-33a-5p</text></g>
<g id="n223" class="n"><circle cx="420" cy="1045" r="20"/><text x="420" y="1045">hsa-mir-4667-5p</text></g>
<g id="n224" class="n"><circle cx="480" cy="1058" r="20"/><text x="480" y="1058">hsa-mir-3605</text></g>
<g id="n225" class="n"><circle cx="630" cy="1060" r="20"/><text x="630" y="1060">hsa-mir-6808-3p</text></g>
<g id="n226" class="n"><circle cx="705" cy="1062" r="20"/><text x="705" y="1062">hsa-mir-877-3p</text></g>
<g id="n227" class="n"><circle cx="760" cy="1047" r="20"/><text x="760" y="1047">hsa-mir-4722-5p</text></g>
<g id="n228" class="n"><circle cx="180" cy="1070" r="20"/><text x="180" y="1070">hsa-mir-377-3p</text></g>
<g id="n229" class="n"><circle cx="260" cy="1072" r="20"/><text x="260" y="1072">hsa-mir-3184-5p</text></g>
<g id="n230" class="n"><circle cx="335" cy="1080" r="20"/><text x="335" y="1080">hsa-let-7g-5p</text></g>
<g id="n231" class="n"><circle cx="400" cy="1078" r="20"/><text x="400" y="1078">hsa-mir-4425</text></g>
<g id="n232" class="n"><circle cx="805" cy="1063" r="20"/><text x="805" y="1063">hsa-mir-150-3p</text></g>
<g id="n233" class="n"><circle cx="905" cy="1068" r="20"/><text x="905" y="1068">hsa-mir-6131</text></g>
<g id="n234" class="n"><circle cx="550" cy="1077" r="20"/><text x="550" y="1077">hsa-mir-5196-5p</text></g>
<g id="n235" class="n"><circle cx="620" cy="1083" r="20"/><text x="620" y="1083">hsa-mir-3681-3p</text></g>
<g id="n236" class="n"><circle cx="500" cy="1082" r="20"/><text x="500" y="1082">hsa-mir-4756-3p</text></g>
<g id="n237" class="n"><circle cx="210" cy="1108" r="20"/><text x="210" y="1108">hsa-mir-539-5p</text></g>
<g id="n238" class="n"><circle cx="320" cy="1102" r="20"/><text x="320" y="1102">hsa-mir-6883-5p</text></g>
<g id="n239" class="n"><circle cx="455" cy="1090" r="20"/><text x="455" y="1090">hsa-mir-1296-5p</text></g>
<g id="n240" class="n"><circle cx="675" cy="1093" r="20"/><text x="675" y="1093">hsa-mir-4503</text></g>
<g id="n241" class="n"><circle cx="775" cy="1092" r="20"/><text x="775" y="1092">hsa-mir-16-1-3p</text></g>
<g id="n242" class="n"><circle cx="850" cy="1105" r="20"/><text x="850" y="1105">hsa-mir-196b-5p</text></g>
<g id="n243" class="n"><circle cx="245" cy="1140" r="20"/><text x="245" y="1140">hsa-mir-320b</text></g>
<g id="n244" class="n"><circle cx="355" cy="1140" r="20"/><text x="355" y="1140">hsa-mir-320a</text></g>
<g id="n245" class="n"><circle cx="430" cy="1128" r="20"/><text x="430" y="1128">hsa-mir-1271-5p</text></g>
<g id="n246" class="n"><circle cx="530" cy="1125" r="20"/><text x="530" y="1125">hsa-mir-301b-3p</text></g>
<g id="n247" class="n"><circle cx="815" cy="1122" r="20"/><text x="815" y="1122">hsa-mir-4419b</text></g>
<g id="n248" class="n"><circle cx="700" cy="1130" r="20"/><text x="700" y="1130">hsa-mir-129-2-3p</text></g>
<g id="n249" class="n"><circle cx="195" cy="1155" r="20"/><text x="195" y="1155">hsa-mir-6512-3p</text></g>
<g id="n250" class="n"><circle cx="385" cy="1150" r="20"/><text x="385" y="1150">hsa-mir-3123</text></g>
<g id="n251" class="n"><circle cx="450" cy="1160" r="20"/><text x="450" y="1160">hsa-mir-548a-3p</text></g>
<g id="n252" class="n"><circle cx="785" cy="1155" r="20"/><text x="785" y="1155">hsa-mir-93-5p</text></g>
<g id="n253" class="n"><circle cx="870" cy="1150" r="20"/><text x="870" y="1150">hsa-mir-4755-3p</text></g>
<g id="n254" class="n"><circle cx="270" cy="1175" r="20"/><text x="270" y="1175">hsa-mir-654-3p</text></g>
<g id="n255" class="n"><circle cx="330" cy="1203" r="20"/><text x="330" y="1203">hsa-mir-4537</text></g>
<g id="n256" class="n"><circle cx="400" cy="1190" r="20"/><text x="400" y="1190">hsa-mir-29c-3p</text></g>
<g id="n257" class="n"><circle cx="570" cy="1172" r="20"/><text x="570" y="1172">hsa-mir-6808</text></g>
<g id="n258" class="n"><circle cx="500" cy="1172" r="20"/><text x="500" y="1172">hsa-mir-6877</text></g>
<g id="n259" class="n"><circle cx="635" cy="1178" r="20"/><text x="635" y="1178">hsa-mir-4726-5p</text></g>
<g id="n260" class="n"><circle cx="700" cy="1180" r="20"/><text x="700" y="1180">hsa-mir-1292-5p</text></g>
<g id="n261" class="n"><circle cx="770" cy="1180" r="20"/><text x="770" y="1180">hsa-let-7i-5p</text></g>
<g id="n262" class="n"><circle cx="830" cy="1192" r="20"/><text x="830" y="1192">hsa-mir-6849-3p</text></g>
<g id="n263" class="n"><circle cx="245" cy="1195" r="20"/><text x="245" y="1195">hsa-mir-454-3p</text></g>
<g id="n264" class="n"><circle cx="470" cy="1200" r="20"/><text x="470" y="1200">hsa-mir-30a-5p</text></g>
<g id="n265" class="n"><circle cx="430" cy="1212" r="20"/><text x="430" y="1212">hsa-mir-685</text></g>
<g id="n266" class="n"><circle cx="710" cy="1217" r="20"/><text x="710" y="1217">hsa-mir-1290</text></g>
<g id="n267" class="n"><circle cx="800" cy="1228" r="20"/><text x="800" y="1228">hsa-mir-145-5p</text></g>
<g id="n268" class="n"><circle cx="520" cy="1227" r="20"/><text x="520" y="1227">hsa-mir-6790-5p</text></g>
<g id="n269" class="n"><circle cx="580" cy="1220" r="20"/><text x="580" y="1220">hsa-mir-4747</text></g>
<g id="n270" class="n"><circle cx="635" cy="1225" r="20"/><text x="635" y="1225">hsa-mir-30d-5p</text></g>
<g id="n271" class="n"><circle cx="285" cy="1240" r="20"/><text x="285" y="1240">hsa-mir-3154</text></g>
<g id="n272" class="n"><circle cx="400" cy="1247" r="20"/><text x="400" y="1247">hsa-mir-148b-3p</text></g>
<g id="n273" class="n"><circle cx="510" cy="1250" r="20"/><text x="510" y="1250">hsa-mir-92a-3p</text></g>
<g id="n274" class="n"><circle cx="765" cy="1253" r="20"/><text x="765" y="1253">hsa-mir-5586-5p</text></g>
<g id="n275" class="n"><circle cx="440" cy="1265" r="20"/><text x="440" y="1265">hsa-mir-513a-5p</text></g>
<g id="n276" class="n"><circle cx="690" cy="1265" r="20"/><text x="690" y="1265">hsa-mir-6843-3p</text></g>
<g id="n277" class="n"><circle cx="620" cy="1268" r="20"/><text x="620" y="1268">hsa-mir-589</text></g>
<g id="n278" class="n"><circle cx="555" cy="1275" r="20"/><text x="555" y="1275">hsa-mir-382-5p</text></g>
<g id="n279" class="n"><circle cx="335" cy="1277" r="20"/><text x="335" y="1277">hsa-mir-197-3p</text></g>
<g id="n280" class="n"><circle cx="530" cy="1295" r="20"/><text x="530" y="1295">hsa-mir-1249-5p</text></g>
<g id="n281" class="n"><circle cx="728" cy="1300" r="20"/><text x="728" y="1300">hsa-mir-548s</text></g>
<g id="n282" class="n"><circle cx="415" cy="1310" r="20"/><text x="415" y="1310">hsa-let-7c-5p</text></g>
<g id="n283" class="n"><circle cx="460" cy="1333" r="20"/><text x="460" y="1333">hsa-mir-130b-3p</text></g>
<g id="n284" class="n"><circle cx="525" cy="1333" r="20"/><text x="525" y="1333">hsa-mir-125a-3p</text></g>
<g id="n285" class="n"><circle cx="595" cy="1327" r="20"/><text x="595" y="1327">hsa-mir-146b</text></g>
<g id="n286" class="n"><circle cx="665" cy="1327" r="20"/><text x="665" y="1327">hsa-mir-29b-2-5p</text></g>
<!-- genes -->
<g id="CDX2" class="g"><rect x="103" y="275" width="40" height="40"/><text x="123" y="295">CDX2</text></g>
<g id="MYC" class="g"><rect x="123" y="400" width="40" height="40"/><text x="143" y="420">MYC</text></g>
<g id="SOX4" class="g"><rect x="197" y="398" width="40" height="40"/><text x="217" y="418">SOX4</text></g>
<g id="WWTR1" class="g"><rect x="725" y="205" width="40" height="40"/><text x="745" y="225">WWTR1</text></g>
<g id="ATF4" class="g"><rect x="792" y="215" width="40" height="40"/><text x="812" y="235">ATF4</text></g>
<g id="CEBPB" class="g"><rect x="857" y="230" width="40" height="40"/><text x="877" y="250">CEBPB</text></g>
<g id="DDIT3" class="g"><rect x="868" y="140" width="40" height="40"/><text x="888" y="160">DDIT3</text></g>
<g id="ATF3" class="g"><rect x="920" y="110" width="40" height="40"/><text x="940" y="130">ATF3</text></g>
<g id="TFAP2A" class="g"><rect x="1170" y="950" width="40" height="40"/><text x="1190" y="970">TFAP2A</text></g>
<!-- hubs -->
<g id="AXIN2" class="h"><polygon points="322,268 342,308 302,308"/><text x="327" y="290">AXIN2</text></g>
<g id="ASNS" class="h"><polygon points="822,296 842,336 802,336"/><text x="825" y="314">ASNS</text></g>
<g id="TSPYL1" class="h"><polygon points="560,910 580,950 540,950"/><text x="560" y="930">TSPYL1</text></g>
<g id="MCAM" class="h"><polygon points="1240,735 1260,775 1220,775"/><text x="1240" y="755">MCAM</text></g>
</g>
</g>
</svg>
